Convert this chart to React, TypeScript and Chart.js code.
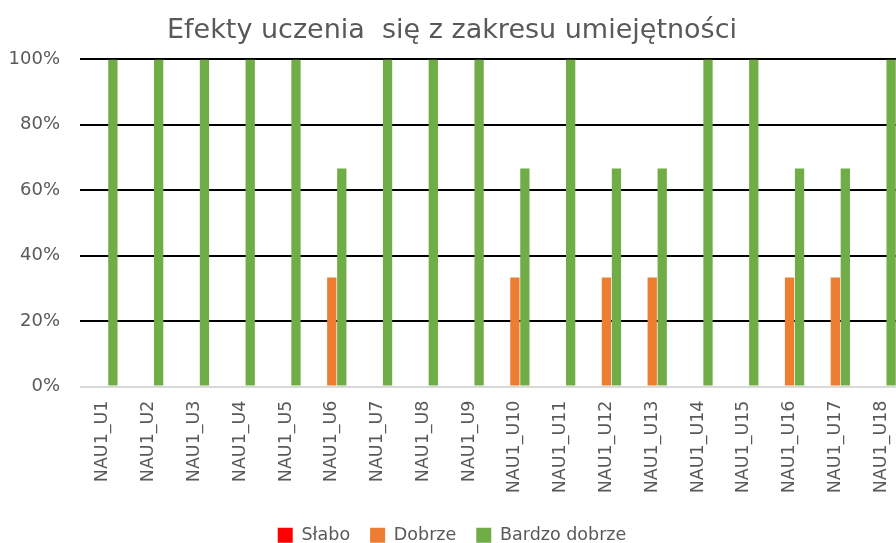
import React, { useEffect, useRef } from "react";
import { Chart, registerables } from "chart.js";

Chart.register(...registerables);

const categories = [
  "NAU1_U1", "NAU1_U2", "NAU1_U3", "NAU1_U4", "NAU1_U5", "NAU1_U6",
  "NAU1_U7", "NAU1_U8", "NAU1_U9", "NAU1_U10", "NAU1_U11", "NAU1_U12",
  "NAU1_U13", "NAU1_U14", "NAU1_U15", "NAU1_U16", "NAU1_U17", "NAU1_U18",
];
const slabo = [0, 0, 0, 0, 0, 0, 0, 0, 0, 0, 0, 0, 0, 0, 0, 0, 0, 0];
const dobrze = [0, 0, 0, 0, 0, 33.33, 0, 0, 0, 33.33, 0, 33.33, 33.33, 0, 0, 33.33, 33.33, 0];
const bardzoDobrze = [100, 100, 100, 100, 100, 66.67, 100, 100, 100, 66.67, 100, 66.67, 66.67, 100, 100, 66.67, 66.67, 100];
const seriesNames = ["Słabo", "Dobrze", "Bardzo dobrze"];
const titleText = "Efekty uczenia  się z zakresu umiejętności";

export default function App() {
  const ref = useRef<HTMLCanvasElement | null>(null);
  useEffect(() => {
    if (!ref.current) return;
    const text = "#595959";
    const chart = new Chart(ref.current, {
      type: "bar",
      data: {
        labels: categories,
        datasets: [
          { label: seriesNames[0], data: slabo, backgroundColor: "#FF0000" },
          { label: seriesNames[1], data: dobrze, backgroundColor: "#ED7D31" },
          { label: seriesNames[2], data: bardzoDobrze, backgroundColor: "#70AD47" },
        ],
      },
      options: {
        animation: false,
        responsive: true,
        maintainAspectRatio: false,
        datasets: { bar: { categoryPercentage: 0.655, barPercentage: 0.93 } },
        layout: { padding: { left: 0, right: 30, top: 0, bottom: 0 } },
        plugins: {
          title: {
            display: true,
            text: titleText,
            color: text,
            font: { family: "DejaVu Sans", size: 27, weight: "normal" },
            padding: { top: 15, bottom: 12 },
          },
          legend: {
            position: "bottom",
            labels: {
              color: text,
              font: { family: "DejaVu Sans", size: 17.5 },
              boxWidth: 15,
              boxHeight: 15,
              padding: 20,
            },
          },
          tooltip: { enabled: false },
        },
        scales: {
          x: {
            grid: { display: false, drawTicks: false },
            border: { display: true, color: "#d9d9d9", width: 1 },
            ticks: {
              color: text,
              font: { family: "DejaVu Sans", size: 17.5 },
              minRotation: 90,
              maxRotation: 90,
              autoSkip: false,
              padding: 14,
            },
            afterFit: (s: any) => { s.height = 120; },
          },
          y: {
            min: 0,
            max: 100,
            grid: {
              color: (c: any) => (c.tick && c.tick.value === 0 ? "#d9d9d9" : "#000000"),
              lineWidth: 2,
              drawTicks: false,
            },
            border: { display: false },
            ticks: {
              stepSize: 20,
              color: text,
              font: { family: "DejaVu Sans", size: 18 },
              padding: 20,
              callback: (v: any) => v + "%",
            },
            afterFit: (s: any) => { s.width = 80; },
          },
        },
      },
    });
    return () => chart.destroy();
  }, []);
  return (
    <div style={{ position: "fixed", left: 0, top: 0, width: 896, height: 543, overflow: "hidden", background: "#fff" }}>
      <div style={{ position: "relative", width: 934, height: 554 }}>
        <canvas ref={ref} />
      </div>
    </div>
  );
}
